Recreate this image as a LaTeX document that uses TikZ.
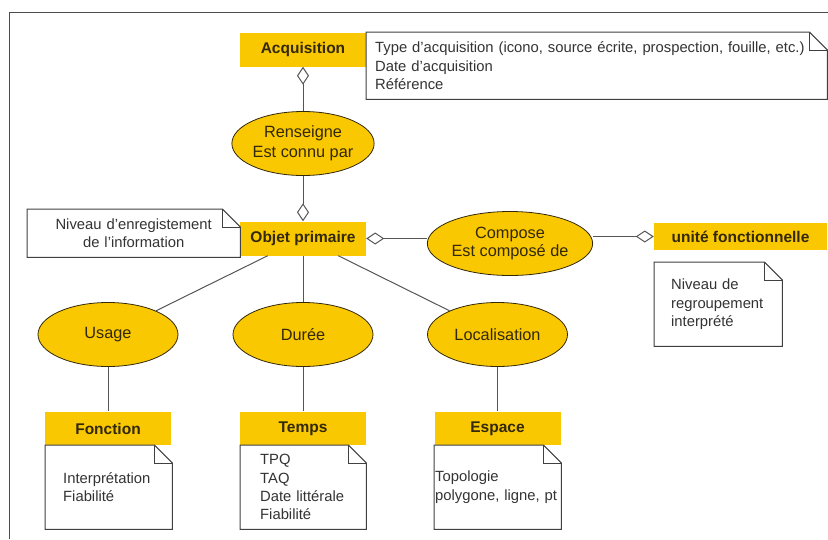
\documentclass[tikz,border=0pt]{standalone}
\usepackage{fontspec}
\setmainfont{Liberation Sans}
\usetikzlibrary{shapes.geometric, arrows.meta}

\definecolor{gold}{RGB}{250,200,0}
\definecolor{ink}{RGB}{50,40,10}
\definecolor{wire}{RGB}{85,85,85}

\tikzset{
    entity/.style={rectangle, fill=gold, text=ink, font=\fontsize{15.5}{18}\selectfont\bfseries, minimum width=126pt, minimum height=34pt, inner sep=0pt},
    relation/.style={ellipse, fill=gold, draw=ink, line width=0.8pt, text=ink, align=center, font=\fontsize{16.3}{19.5}\selectfont, minimum width=140pt, minimum height=64pt, inner sep=0pt},
    note/.style={rectangle, fill=white, text=black!80, align=left, font=\fontsize{14.8}{18.3}\selectfont, anchor=north west, inner ysep=0pt},
    noteline/.style={draw=black!75, line width=1pt},
    link/.style={draw=wire, line width=1pt},
    agg/.style={link, -{Diamond[open, length=18pt, width=12pt]}},
}

% dog-eared outline of a note
\newcommand{\notefold}[1]{%
    \draw[noteline] (#1.south west) -- (#1.north west) -- ([xshift=-18pt]#1.north east) -- ([yshift=-18pt]#1.north east) -- (#1.south east) -- cycle;
    \draw[noteline] ([xshift=-18pt]#1.north east) |- ([yshift=-18pt]#1.north east);
}

\begin{document}
\begin{tikzpicture}[x=1pt, y=-1pt]
            \useasboundingbox (0,0) rectangle (828,539);
            \draw[draw=black!70, line width=1pt] (9,539) -- (9,12) -- (828,12);

            % Top: acquisition
            \node[entity] (acq) at (303,49.5) {Acquisition};
            \node[note, inner xsep=9pt, text width=443pt, minimum height=67pt] (acq-note) at (366,32) {Type d'acquisition (icono, source écrite, prospection, fouille, etc.)\\Date d'acquisition\\Référence};
            \notefold{acq-note}
            \node[relation] (rens) at (303,143.5) {Renseigne\\Est connu par};

            % Middle: objet primaire
            \node[entity] (objet) at (303,238.5) {Objet primaire};
            \node[note, align=center, inner xsep=0pt, text width=213pt, minimum height=48pt] (objet-note) at (27,209) {Niveau d'enregistement\\de l'information};
            \notefold{objet-note}
            \node[relation, font=\fontsize{16.3}{18.5}\selectfont] (compose) at (510,243.5) {Compose\\Est composé de};
            \node[entity, minimum width=173pt, minimum height=27pt] (unite) at (740.5,236.5) {unité fonctionnelle};
            \node[note, inner xsep=17pt, text width=94pt, minimum height=84pt] (unite-note) at (654,262) {Niveau de\\regroupement\\interprété};
            \notefold{unite-note}

            % Bottom: usage, duree, localisation
            \node[relation] (usage) at (108,334.5) {Usage};
            \node[relation] (duree) at (303,334.5) {Durée};
            \node[relation] (loc) at (497.5,334.5) {Localisation};
            \node[entity] (fonction) at (108,428.5) {Fonction};
            \node[entity] (temps) at (303,428.5) {Temps};
            \node[entity] (espace) at (497.5,428.5) {Espace};
            \node[note, inner xsep=18pt, text width=91pt, minimum height=84pt] (fonction-note) at (45,445) {Interprétation\\Fiabilité};
            \notefold{fonction-note}
            \node[note, inner xsep=20pt, text width=86pt, minimum height=84pt] (temps-note) at (240,445) {TPQ\\TAQ\\Date littérale\\Fiabilité};
            \notefold{temps-note}
            \node[note, inner xsep=1pt, text width=125pt, minimum height=84pt] (espace-note) at (434,445) {Topologie\\polygone, ligne, pt};
            \notefold{espace-note}

            % Connectors
            \draw[agg] (rens) -- (acq);
            \draw[agg] (rens) -- (objet);
            \draw[agg] (compose.west |- objet) -- (objet);
            \draw[agg] (compose.east |- unite) -- (unite);
            \draw[link] (objet.206) -- (usage);
            \draw[link] (objet) -- (duree);
            \draw[link] (objet.334) -- (loc);
            \draw[link] (usage) -- (fonction);
            \draw[link] (duree) -- (temps);
            \draw[link] (loc) -- (espace);
        \end{tikzpicture}
\end{document}
